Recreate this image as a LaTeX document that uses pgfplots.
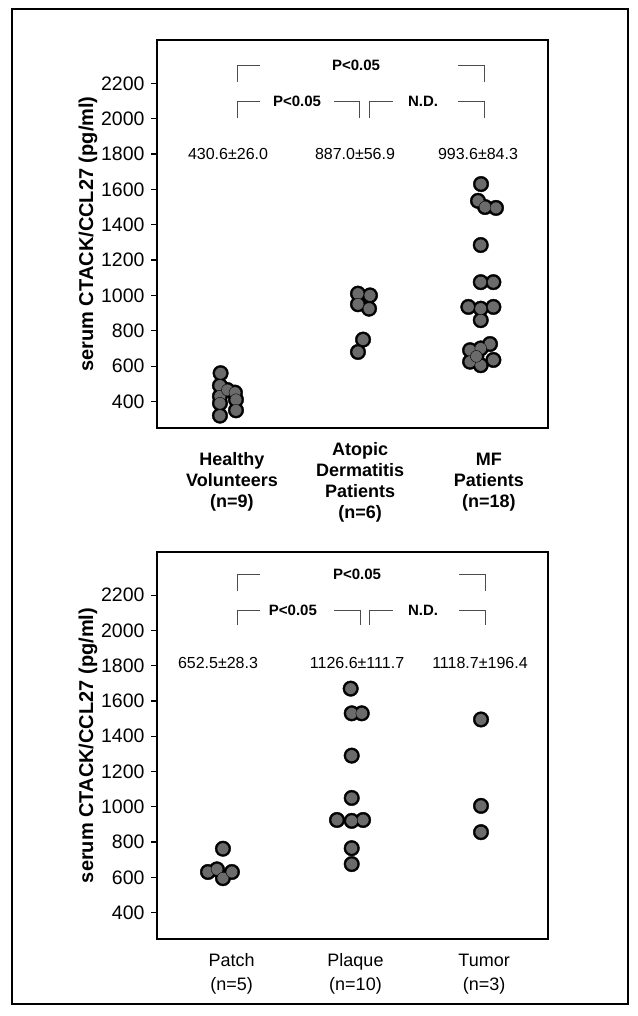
\documentclass[border=0pt]{standalone}
\usepackage{fontspec}
\setmainfont{Liberation Sans}
\usepackage{pgfplots}
\pgfplotsset{compat=1.18}
\usepackage{pgfplotstable}

% Panel A: Healthy (x~1), Atopic dermatitis (x~2), MF (x~3)
\pgfplotstableread{
x y
0.988 560
0.983 490
0.983 430
0.983 390
0.983 320
1.040 465
1.098 450
1.106 410
1.106 350
2.042 1010
2.134 1000
2.042 950
2.127 925
2.081 750
2.042 680
2.986 1630
2.963 1535
3.017 1500
3.101 1495
2.984 1285
2.984 1075
3.081 1075
2.889 935
2.984 925
3.081 935
2.984 860
3.055 725
2.902 690
2.984 700
2.902 625
2.984 605
3.081 635
2.950 655
}\toptable

% Panel B: Patch (x~1), Plaque (x~2), Tumor (x~3)
\pgfplotstableread{
x y
0.891 630
0.960 645
1.006 595
1.075 630
1.006 762
1.986 1670
1.994 1530
2.071 1530
1.994 1290
1.994 1050
1.881 925
1.994 920
2.081 925
1.994 765
1.994 675
2.986 1495
2.986 1005
2.986 856
}\bottable

\tikzset{
  brk/.style={line width=0.9pt, black!70},
  pfont/.style={font=\bfseries\fontsize{15}{17}\selectfont},
  mfont/.style={font=\fontsize{16}{18}\selectfont},
}
\pgfplotsset{
  dotaxis/.style={
    at={(157pt,#1)}, anchor=south west,
    scale only axis, width=391pt, height=388pt,
    xmin=0.5, xmax=3.5, ymin=250, ymax=2445,
    ytick={400,600,...,2200},
    ytick pos=left, tick align=outside,
    major tick length=6pt,
    xtick style={draw=none},
    axis line style={line width=1.3pt},
    ytick style={line width=1.2pt, black},
    /pgf/number format/1000 sep={},
    /pgf/number format/assume math mode=true,
    yticklabel style={font=\fontsize{19.5}{21}\selectfont, xshift=-3pt},
    ylabel={serum CTACK/CCL27 (pg/ml)},
    ylabel style={at={(axis description cs:-0.1765,0.5)}, anchor=center,
                  font=\bfseries\fontsize{20}{23}\selectfont},
    clip=false,
  },
  outerdot/.style={only marks, mark=*, mark size=7.8pt, mark options={fill=black, draw=none}},
  innerdot/.style={only marks, mark=*, mark size=5.9pt, mark options={fill=black!58, draw=none}},
}

\begin{document}
\begin{tikzpicture}
\useasboundingbox (0,0) rectangle (637pt,1016pt);
\draw[line width=1.5pt] (12pt,12pt) rectangle (628pt,1007pt);

% ---------------- top panel ----------------
\begin{axis}[dotaxis=588pt,
  xtick={1.075,2.058,3.047},
  xticklabels={{Healthy\\Volunteers\\(n=9)},{Atopic\\Dermatitis\\Patients\\(n=6)},{MF\\Patients\\(n=18)}},
  xticklabel style={align=center, anchor=center, yshift=-48pt,
                    font=\bfseries\fontsize{18}{21}\selectfont},
]
\addplot[outerdot] table {\toptable};
\addplot[innerdot] table {\toptable};

\draw[brk] (axis cs:1.114,2209) |- (axis cs:1.290,2300);
\draw[brk] (axis cs:2.810,2300) -| (axis cs:3.009,2209);
\node[pfont] at (axis cs:2.027,2300) {P<0.05};

\draw[brk] (axis cs:1.114,2005) |- (axis cs:1.290,2096);
\node[pfont] at (axis cs:1.574,2096) {P<0.05};
\draw[brk] (axis cs:1.858,2096) -| (axis cs:2.050,2005);
\draw[brk] (axis cs:2.127,2005) |- (axis cs:2.311,2096);
\node[pfont] at (axis cs:2.541,2096) {N.D.};
\draw[brk] (axis cs:2.810,2096) -| (axis cs:3.009,2005);

\node[mfont] at (axis cs:1.045,1798) {430.6±26.0};
\node[mfont] at (axis cs:2.019,1798) {887.0±56.9};
\node[mfont] at (axis cs:2.963,1798) {993.6±84.3};
\end{axis}

% ---------------- bottom panel ----------------
\begin{axis}[dotaxis=77pt, height=387pt,
  xtick={1.072,2.023,3.010},
  xticklabels={{Patch\\(n=5)},{Plaque\\(n=10)},{Tumor\\(n=3)}},
  xticklabel style={align=center, anchor=center, yshift=-29pt,
                    font=\fontsize{18}{24}\selectfont},
]
\addplot[outerdot] table {\bottable};
\addplot[innerdot] table {\bottable};

\draw[brk] (axis cs:1.121,2222) |- (axis cs:1.290,2319);
\draw[brk] (axis cs:2.817,2319) -| (axis cs:3.017,2222);
\node[pfont] at (axis cs:2.035,2319) {P<0.05};

\draw[brk] (axis cs:1.121,2029) |- (axis cs:1.290,2114);
\node[pfont] at (axis cs:1.543,2114) {P<0.05};
\draw[brk] (axis cs:1.858,2114) -| (axis cs:2.058,2029);
\draw[brk] (axis cs:2.127,2029) |- (axis cs:2.311,2114);
\node[pfont] at (axis cs:2.541,2114) {N.D.};
\draw[brk] (axis cs:2.817,2114) -| (axis cs:3.017,2029);

\node[mfont] at (axis cs:0.968,1818) {652.5±28.3};
\node[mfont] at (axis cs:2.035,1818) {1126.6±111.7};
\node[mfont] at (axis cs:2.978,1818) {1118.7±196.4};
\end{axis}
\end{tikzpicture}
\end{document}
